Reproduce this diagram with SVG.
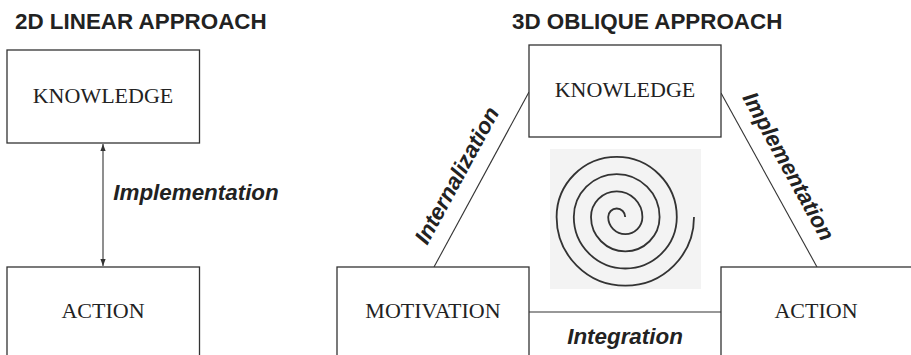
<svg xmlns="http://www.w3.org/2000/svg" width="911" height="355" viewBox="0 0 911 355">
<style>
.box{fill:#fff;stroke:#333;stroke-width:1.3}
.lbl{font-family:"Liberation Serif",serif;font-size:22px;fill:#222;text-anchor:middle}
.title{font-family:"Liberation Sans",Arial,sans-serif;font-size:22.4px;font-weight:bold;fill:#222}
.edge{font-family:"Liberation Sans",Arial,sans-serif;font-size:22.4px;font-weight:bold;font-style:italic;fill:#222;text-anchor:middle}
.conn{stroke:#333;stroke-width:1.1;fill:none}
</style>
<defs>
<marker id="ah" viewBox="0 0 8 8" refX="8" refY="4" markerWidth="7" markerHeight="7" orient="auto-start-reverse" markerUnits="userSpaceOnUse">
<path d="M0,1 L8,4 L0,7 Z" fill="#333"/>
</marker>
</defs>
<text class="title" x="15" y="29">2D LINEAR APPROACH</text>
<text class="title" x="512" y="29">3D OBLIQUE APPROACH</text>
<g id="connectors">
<line class="conn" x1="103" y1="144" x2="103" y2="266" marker-start="url(#ah)" marker-end="url(#ah)"/>
<line class="conn" x1="434" y1="267" x2="529" y2="92"/>
<line class="conn" x1="721" y1="93" x2="817" y2="267"/>
<line class="conn" x1="529" y1="312" x2="721" y2="312"/>
<text class="edge" x="196" y="200">Implementation</text>
<text class="edge" transform="translate(463.5,179) rotate(-61.5)" x="0" y="0">Internalization</text>
<text class="edge" transform="translate(782,170) rotate(61.1)" x="0" y="0">Implementation</text>
<text class="edge" x="625" y="344">Integration</text>
</g>
<g id="knowledge2d">
<rect class="box" x="7" y="50" width="192.5" height="93"/>
<text class="lbl" x="103" y="103">KNOWLEDGE</text>
</g>
<g id="action2d">
<rect class="box" x="7" y="267" width="192.5" height="120"/>
<text class="lbl" x="103" y="318">ACTION</text>
</g>
<g id="knowledge3d">
<rect class="box" x="529" y="45" width="192" height="92"/>
<text class="lbl" x="625" y="97">KNOWLEDGE</text>
</g>
<g id="motivation">
<rect class="box" x="337" y="267" width="192" height="120"/>
<text class="lbl" x="433" y="318">MOTIVATION</text>
</g>
<g id="action3d">
<rect class="box" x="721" y="267" width="220" height="120"/>
<text class="lbl" x="816" y="318">ACTION</text>
</g>
<g id="spiral">
<rect x="550" y="149" width="151" height="140" fill="#f3f3f3"/>
<path d="M694,217 A68.7,68.7 0 0 1 556.6,217 A60.1,60.1 0 0 1 676.8,217 A51.5,51.5 0 0 1 573.8,217 A42.9,42.9 0 0 1 659.6,217 A34.3,34.3 0 0 1 591,217 A25.7,25.7 0 0 1 642.4,217 A17.1,17.1 0 0 1 608.2,217 A8.5,8.5 0 0 1 625.2,217" fill="none" stroke="#333" stroke-width="1.8"/>
</g>
</svg>
